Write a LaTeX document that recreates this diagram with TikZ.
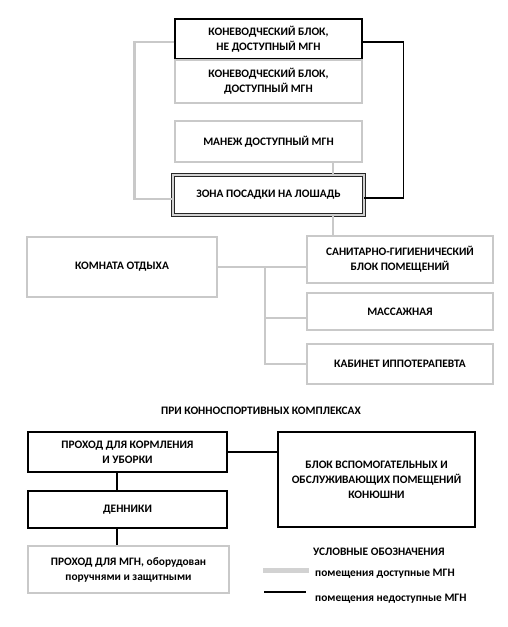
\documentclass[tikz,border=0pt]{standalone}
\usepackage{fontspec}
\setmainfont{Carlito}
\begin{document}
\begin{tikzpicture}[x=1pt,y=-1pt,
  every node/.style={font=\bfseries\fontsize{11.4}{15}\selectfont, align=center, inner sep=0pt},
  gbox/.style={draw=gray!42, line width=2.6pt},
  bbox/.style={draw=black, line width=1.1pt},
  gline/.style={draw=gray!42, line width=2.6pt},
  bline/.style={draw=black, line width=1.3pt}]
\useasboundingbox[fill=white] (0,0) rectangle (507,627);
% top column
\node[bbox, minimum width=187, minimum height=40] (k1) at (268.5,39) {КОНЕВОДЧЕСКИЙ БЛОК,\\НЕ ДОСТУПНЫЙ МГН};
\node[gbox, minimum width=187, minimum height=43] (k2) at (268.5,81.5) {КОНЕВОДЧЕСКИЙ БЛОК,\\ДОСТУПНЫЙ МГН};
\node[gbox, minimum width=187, minimum height=41] (man) at (268.5,141.5) {МАНЕЖ ДОСТУПНЫЙ МГН};
\node[draw=black!85, double=gray!35, double distance=2pt, line width=0.9pt, minimum width=191, minimum height=40] (zona) at (268.5,195) {ЗОНА ПОСАДКИ НА ЛОШАДЬ};
\coordinate (ka) at ([yshift=-3pt]k1.west);
\coordinate (kb) at ([yshift=-3pt]k1.east);
\draw[gline] (ka) -- ++(-40,0) |- ([yshift=-4pt]zona.west);
\draw[bline] (kb) -- ++(41,0) |- ([yshift=-3pt]zona.east);
\draw[gline] (man.south -| 333,0) -- (zona.north -| 333,0);
% middle
\node[gbox, minimum width=190, minimum height=60] (kom) at (122,267) {КОМНАТА ОТДЫХА};
\node[gbox, minimum width=186, minimum height=47] (san) at (400,259.5) {САНИТАРНО-ГИГИЕНИЧЕСКИЙ\\БЛОК ПОМЕЩЕНИЙ};
\node[gbox, minimum width=186, minimum height=37] (mas) at (400,311.5) {МАССАЖНАЯ};
\node[gbox, minimum width=186, minimum height=40] (kab) at (400,364) {КАБИНЕТ ИППОТЕРАПЕВТА};
\draw[gline] (zona.south -| 333,0) -- (san.north -| 333,0);
\draw[gline] (kom.east) -- (san.west |- kom.east);
\coordinate (br) at (265,267);
\draw[gline] (br) |- (kab.west);
\draw[gline] (br |- 0,318) -- (mas.west |- 0,318);
% title
\node (title) at (261,411) {ПРИ КОННОСПОРТИВНЫХ КОМПЛЕКСАХ};
% bottom
\node[bbox, minimum width=199, minimum height=40] (pr) at (127.5,452) {ПРОХОД ДЛЯ КОРМЛЕНИЯ\\И УБОРКИ};
\node[bbox, minimum width=197, minimum height=95] (blk) at (376.5,479.5) {БЛОК ВСПОМОГАТЕЛЬНЫХ И\\ОБСЛУЖИВАЮЩИХ ПОМЕЩЕНИЙ\\КОНЮШНИ};
\node[bbox, minimum width=199, minimum height=37] (den) at (127.5,509.5) {ДЕННИКИ};
\node[gbox, minimum width=201, minimum height=47] (mgn) at (128.5,569.5) {ПРОХОД ДЛЯ МГН, оборудован\\поручнями и защитными};
\draw[bline] (pr.east) -- (blk.west |- pr.east);
\draw[bline] (pr.south -| 117,0) -- (den.north -| 117,0);
\draw[bline] (den.south -| 117,0) -- (mgn.north -| 117,0);
% legend
\node[anchor=west] (leg) at (313,552) {УСЛОВНЫЕ ОБОЗНАЧЕНИЯ};
\node[anchor=west] (l1) at (315,574) {помещения доступные МГН};
\node[anchor=west] (l2) at (315,599) {помещения недоступные МГН};
\coordinate (g1) at (263,570);
\coordinate (g2) at (309,570);
\coordinate (b1) at (264,592);
\coordinate (b2) at (306,592);
\draw[draw=gray!35, line width=5pt] (g1) -- (g2);
\draw[bline] (b1) -- (b2);
\end{tikzpicture}
\end{document}
